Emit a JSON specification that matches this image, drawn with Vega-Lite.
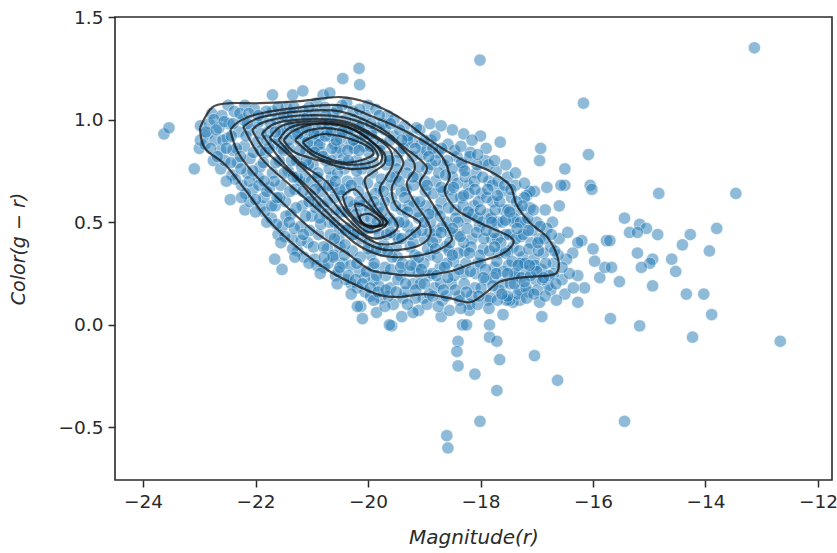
{"$schema":"https://vega.github.io/schema/vega-lite/v6.json","width":717,"height":463,"autosize":{"type":"none"},"padding":{"left":115,"top":17,"right":5,"bottom":73},"background":"white","config":{"view":{"stroke":"#2a2a2a","strokeWidth":1.6},"font":"DejaVu Sans"},
"datasets":{"pts":[
{"m":-13.13,"c":1.35},{"m":-18.01,"c":1.29},{"m":-16.17,"c":1.08},{"m":-20.16,"c":1.25},{"m":-20.15,"c":1.17},{"m":-20.45,"c":1.2},{"m":-12.67,"c":-0.08},{"m":-13.46,"c":0.64},{"m":-14.83,"c":0.64},{"m":-16.08,"c":0.83},{"m":-16.5,"c":0.76},{"m":-16.93,"c":0.86},{"m":-16.95,"c":0.8},{"m":-16.05,"c":0.68},{"m":-16.02,"c":0.66},{"m":-16.5,"c":0.68},{"m":-16.57,"c":0.68},{"m":-16.82,"c":0.67},{"m":-17.04,"c":0.65},{"m":-17.18,"c":0.63},{"m":-17.12,"c":0.65},
{"m":-15.44,"c":0.52},{"m":-15.17,"c":0.49},{"m":-15.05,"c":0.47},{"m":-15.35,"c":0.45},{"m":-15.21,"c":0.45},{"m":-14.85,"c":0.44},{"m":-14.27,"c":0.44},{"m":-13.8,"c":0.47},{"m":-14.41,"c":0.39},{"m":-13.93,"c":0.36},{"m":-14.6,"c":0.32},{"m":-14.94,"c":0.32},{"m":-14.99,"c":0.3},{"m":-14.53,"c":0.26},{"m":-15.14,"c":0.28},{"m":-15.21,"c":0.35},{"m":-15.53,"c":0.21},{"m":-15.88,"c":0.23},{"m":-15.79,"c":0.28},{"m":-15.67,"c":0.28},{"m":-15.97,"c":0.31},{"m":-16.0,"c":0.37},{"m":-15.76,"c":0.41},{"m":-15.7,"c":0.41},{"m":-16.2,"c":0.41},{"m":-16.27,"c":0.4},{"m":-16.36,"c":0.35},{"m":-16.27,"c":0.24},{"m":-16.47,"c":0.32},{"m":-14.94,"c":0.19},{"m":-14.34,"c":0.15},{"m":-14.03,"c":0.15},{"m":-13.89,"c":0.05},{"m":-15.69,"c":0.03},{"m":-15.17,"c":-0.005},{"m":-14.23,"c":-0.06},{"m":-15.44,"c":-0.47},{"m":-18.01,"c":-0.47},{"m":-16.63,"c":-0.27},{"m":-17.04,"c":-0.15},{"m":-17.71,"c":-0.32},{"m":-18.1,"c":-0.24},{"m":-18.6,"c":-0.54},{"m":-18.58,"c":-0.6},
{"m":-18.4,"c":-0.08},{"m":-18.42,"c":-0.13},{"m":-18.4,"c":-0.2},{"m":-17.84,"c":-0.06},{"m":-17.71,"c":-0.08},{"m":-17.66,"c":-0.17},{"m":-18.32,"c":0.0},{"m":-18.25,"c":0.0},{"m":-17.84,"c":0.0},{"m":-19.58,"c":-0.005},{"m":-19.62,"c":0.0},{"m":-20.1,"c":0.03},{"m":-20.13,"c":0.09},{"m":-20.19,"c":0.09},{"m":-16.91,"c":0.04},{"m":-16.5,"c":0.15},{"m":-16.27,"c":0.11},{"m":-16.75,"c":0.17},{"m":-16.95,"c":0.11},{"m":-17.3,"c":0.12},{"m":-17.42,"c":0.11},{"m":-17.6,"c":0.05},{"m":-18.2,"c":0.07},{"m":-18.7,"c":0.04},{"m":-19.1,"c":0.07},{"m":-19.4,"c":0.04},{"m":-19.85,"c":0.06},{"m":-19.55,"c":0.1},{"m":-16.55,"c":0.22},{"m":-16.42,"c":0.25},{"m":-16.15,"c":0.18},{"m":-16.7,"c":0.3},{"m":-16.6,"c":0.42},{"m":-16.45,"c":0.45},{"m":-16.72,"c":0.5},{"m":-16.85,"c":0.56},{"m":-16.6,"c":0.58},
{"m":-23.63,"c":0.93},{"m":-23.54,"c":0.96},{"m":-23.09,"c":0.76},{"m":-23.0,"c":0.86},{"m":-22.98,"c":0.9},{"m":-22.98,"c":0.97},{"m":-22.45,"c":0.61},{"m":-22.19,"c":0.56},{"m":-21.66,"c":0.32},{"m":-21.53,"c":0.27},{"m":-21.7,"c":1.04},{"m":-21.34,"c":1.12},{"m":-21.16,"c":1.14},{"m":-21.7,"c":1.12},{"m":-20.8,"c":1.12},{"m":-20.68,"c":1.13},{"m":-22.49,"c":1.07},{"m":-22.19,"c":1.07},{"m":-22.75,"c":0.8},{"m":-22.62,"c":0.76},{"m":-22.1,"c":0.6},{"m":-21.9,"c":0.58},{"m":-21.6,"c":0.44},
{"m":-22.9,"c":0.88},{"m":-22.85,"c":0.93},{"m":-22.82,"c":0.98},{"m":-22.78,"c":1.03},{"m":-22.72,"c":0.9},{"m":-22.65,"c":0.96},{"m":-22.62,"c":0.85},{"m":-22.6,"c":1.02},{"m":-22.55,"c":0.8},{"m":-22.5,"c":0.91},{"m":-22.47,"c":0.98},{"m":-22.42,"c":0.73},{"m":-22.4,"c":0.85},{"m":-22.38,"c":1.04},{"m":-22.32,"c":0.79},{"m":-22.3,"c":0.94},{"m":-22.25,"c":0.68},{"m":-22.22,"c":1.0},{"m":-22.2,"c":0.87},{"m":-22.15,"c":0.74},{"m":-22.1,"c":0.81},{"m":-22.08,"c":0.95},{"m":-22.05,"c":0.66},{"m":-22.02,"c":1.05},{"m":-21.98,"c":0.89},{"m":-21.95,"c":0.72},{"m":-21.92,"c":0.77},{"m":-21.88,"c":1.0},{"m":-21.85,"c":0.62},{"m":-21.82,"c":0.84},{"m":-21.78,"c":0.94},{"m":-21.75,"c":0.67},{"m":-21.72,"c":0.52},{"m":-21.7,"c":0.74},{"m":-21.68,"c":0.88},{"m":-21.65,"c":0.58},{"m":-21.62,"c":1.0},{"m":-21.58,"c":0.8},{"m":-21.55,"c":0.68},{"m":-21.52,"c":0.48},{"m":-21.5,"c":0.93},{"m":-21.47,"c":0.6},{"m":-21.45,"c":1.06},{"m":-21.42,"c":0.75},{"m":-21.4,"c":0.86},{"m":-21.37,"c":0.54},{"m":-21.35,"c":0.42},{"m":-21.33,"c":0.98},{"m":-21.3,"c":0.66},{"m":-21.27,"c":0.8},{"m":-21.25,"c":0.36},{"m":-21.22,"c":0.9},{"m":-21.2,"c":0.48},{"m":-21.17,"c":0.58},{"m":-21.15,"c":1.04},{"m":-21.12,"c":0.72},{"m":-21.1,"c":0.85},{"m":-21.07,"c":0.4},{"m":-21.05,"c":0.95},{"m":-21.02,"c":0.63},{"m":-21.0,"c":0.53},{"m":-20.98,"c":0.78},{"m":-20.95,"c":0.32},{"m":-20.92,"c":1.08},{"m":-20.9,"c":0.88},{"m":-20.88,"c":0.44},{"m":-20.85,"c":0.68},{"m":-20.82,"c":0.98},{"m":-20.8,"c":0.58},{"m":-20.78,"c":0.28},{"m":-20.75,"c":0.8},{"m":-20.72,"c":0.37},{"m":-20.7,"c":0.92},{"m":-20.68,"c":0.5},{"m":-20.65,"c":0.72},{"m":-20.62,"c":1.03},{"m":-20.6,"c":0.62},{"m":-20.58,"c":0.24},{"m":-20.55,"c":0.84},{"m":-20.52,"c":0.42},{"m":-20.5,"c":0.95},{"m":-20.48,"c":0.55},{"m":-20.45,"c":0.3},{"m":-20.42,"c":0.76},{"m":-20.4,"c":0.66},{"m":-20.38,"c":1.08},{"m":-20.35,"c":0.47},{"m":-20.32,"c":0.88},{"m":-20.3,"c":0.2},{"m":-20.28,"c":0.36},{"m":-20.25,"c":0.58},{"m":-20.22,"c":1.0},{"m":-20.2,"c":0.8},{"m":-20.18,"c":0.7},{"m":-20.15,"c":0.26},{"m":-20.12,"c":0.42},{"m":-20.1,"c":0.92},{"m":-20.08,"c":0.52},{"m":-20.05,"c":0.16},{"m":-20.02,"c":0.62},{"m":-20.0,"c":1.07},{"m":-19.98,"c":0.84},{"m":-19.95,"c":0.34},{"m":-19.92,"c":0.74},{"m":-19.9,"c":0.22},{"m":-19.88,"c":0.47},{"m":-19.85,"c":0.96},{"m":-19.82,"c":0.57},{"m":-19.8,"c":0.67},{"m":-19.78,"c":0.13},{"m":-19.75,"c":0.88},{"m":-19.72,"c":0.39},{"m":-19.7,"c":0.28},{"m":-19.68,"c":0.78},{"m":-19.65,"c":1.02},{"m":-19.62,"c":0.52},{"m":-19.6,"c":0.18},{"m":-19.58,"c":0.62},{"m":-19.55,"c":0.92},{"m":-19.52,"c":0.44},{"m":-19.5,"c":0.72},{"m":-19.48,"c":0.33},{"m":-19.45,"c":0.84},{"m":-19.42,"c":0.24},{"m":-19.4,"c":0.56},{"m":-19.38,"c":0.13},{"m":-19.35,"c":0.97},{"m":-19.32,"c":0.66},{"m":-19.3,"c":0.48},{"m":-19.28,"c":0.78},{"m":-19.25,"c":0.38},{"m":-19.22,"c":0.89},{"m":-19.2,"c":0.2},{"m":-19.18,"c":0.6},{"m":-19.15,"c":0.29},{"m":-19.12,"c":0.72},{"m":-19.1,"c":0.52},{"m":-19.08,"c":0.95},{"m":-19.05,"c":0.83},{"m":-19.02,"c":0.13},{"m":-19.0,"c":0.42},{"m":-18.98,"c":0.65},{"m":-18.95,"c":0.76},{"m":-18.92,"c":0.24},{"m":-18.9,"c":0.34},{"m":-18.88,"c":0.9},{"m":-18.85,"c":0.55},{"m":-18.82,"c":0.18},{"m":-18.8,"c":0.7},{"m":-18.78,"c":0.46},{"m":-18.75,"c":0.84},{"m":-18.72,"c":0.28},{"m":-18.7,"c":0.6},{"m":-18.68,"c":0.12},{"m":-18.65,"c":0.78},{"m":-18.62,"c":0.38},{"m":-18.6,"c":0.5},{"m":-18.58,"c":0.88},{"m":-18.55,"c":0.66},{"m":-18.52,"c":0.2},{"m":-18.5,"c":0.72},{"m":-18.48,"c":0.31},{"m":-18.45,"c":0.56},{"m":-18.42,"c":0.82},{"m":-18.4,"c":0.44},{"m":-18.38,"c":0.14},{"m":-18.35,"c":0.62},{"m":-18.32,"c":0.77},{"m":-18.3,"c":0.25},{"m":-18.28,"c":0.36},{"m":-18.25,"c":0.52},{"m":-18.22,"c":0.68},{"m":-18.2,"c":0.1},{"m":-18.18,"c":0.84},{"m":-18.15,"c":0.42},{"m":-18.12,"c":0.58},{"m":-18.1,"c":0.18},{"m":-18.08,"c":0.74},{"m":-18.05,"c":0.3},{"m":-18.02,"c":0.48},{"m":-18.0,"c":0.92},{"m":-17.98,"c":0.64},{"m":-17.95,"c":0.37},{"m":-17.92,"c":0.8},{"m":-17.9,"c":0.22},{"m":-17.88,"c":0.54},{"m":-17.85,"c":0.7},{"m":-17.82,"c":0.13},{"m":-17.8,"c":0.42},{"m":-17.78,"c":0.6},{"m":-17.75,"c":0.28},{"m":-17.72,"c":0.75},{"m":-17.7,"c":0.5},{"m":-17.68,"c":0.35},{"m":-17.65,"c":0.89},{"m":-17.62,"c":0.65},{"m":-17.6,"c":0.2},{"m":-17.58,"c":0.56},{"m":-17.55,"c":0.44},{"m":-17.52,"c":0.72},{"m":-17.5,"c":0.29},{"m":-17.48,"c":0.12},{"m":-17.45,"c":0.62},{"m":-17.42,"c":0.38},{"m":-17.4,"c":0.5},{"m":-17.38,"c":0.68},{"m":-17.35,"c":0.24},{"m":-17.32,"c":0.56},{"m":-17.3,"c":0.17},{"m":-17.28,"c":0.43},{"m":-17.25,"c":0.33},{"m":-17.22,"c":0.62},{"m":-17.2,"c":0.5},{"m":-17.18,"c":0.26},{"m":-17.15,"c":0.16},{"m":-17.12,"c":0.57},{"m":-17.1,"c":0.4},{"m":-17.05,"c":0.32},{"m":-17.02,"c":0.22},{"m":-17.0,"c":0.5},{"m":-16.95,"c":0.42},{"m":-16.92,"c":0.27},{"m":-16.88,"c":0.35},{"m":-16.82,"c":0.47},{"m":-16.8,"c":0.19},{"m":-16.75,"c":0.38},{"m":-16.7,"c":0.25},{"m":-16.62,"c":0.34},{"m":-16.55,"c":0.28},
{"m":-21.9,"c":0.85},{"m":-21.6,"c":0.9},{"m":-21.3,"c":0.93},{"m":-21.2,"c":1.0},{"m":-21.0,"c":0.9},{"m":-21.0,"c":1.0},{"m":-20.9,"c":0.95},{"m":-20.7,"c":0.98},{"m":-20.6,"c":0.88},{"m":-20.5,"c":0.86},{"m":-20.4,"c":1.0},{"m":-20.3,"c":0.95},{"m":-20.2,"c":0.9},{"m":-20.1,"c":0.98},{"m":-19.9,"c":0.9},{"m":-19.7,"c":0.95},{"m":-19.5,"c":0.8},{"m":-19.3,"c":0.9},{"m":-20.6,"c":0.5},{"m":-20.4,"c":0.55},{"m":-20.2,"c":0.5},{"m":-20.1,"c":0.58},{"m":-19.95,"c":0.52},{"m":-19.8,"c":0.44},{"m":-19.7,"c":0.5},{"m":-19.5,"c":0.38},{"m":-19.2,"c":0.4},{"m":-18.9,"c":0.45},{"m":-18.6,"c":0.3},{"m":-18.3,"c":0.4},{"m":-18.0,"c":0.3},{"m":-17.7,"c":0.42},{"m":-17.5,"c":0.36},{"m":-17.3,"c":0.3},{"m":-19.1,"c":0.25},{"m":-19.9,"c":0.28},{"m":-20.5,"c":0.38},{"m":-20.9,"c":0.6},{"m":-21.2,"c":0.7},
{"m":-22.88,"c":0.94},{"m":-22.8,"c":0.86},{"m":-22.74,"c":1.0},{"m":-22.68,"c":0.82},{"m":-22.58,"c":0.9},{"m":-22.56,"c":0.99},{"m":-22.44,"c":0.79},{"m":-22.43,"c":0.92},{"m":-22.36,"c":0.71},{"m":-22.34,"c":0.86},{"m":-22.28,"c":1.03},{"m":-22.26,"c":0.76},{"m":-22.18,"c":0.64},{"m":-22.17,"c":0.92},{"m":-22.12,"c":1.03},{"m":-22.11,"c":0.7},{"m":-22.04,"c":0.84},{"m":-22.0,"c":0.61},{"m":-21.97,"c":0.98},{"m":-21.94,"c":0.68},{"m":-21.9,"c":0.93},{"m":-21.86,"c":0.79},{"m":-21.84,"c":0.55},{"m":-21.81,"c":1.04},{"m":-21.8,"c":0.65},{"m":-21.76,"c":0.86},{"m":-21.73,"c":0.98},{"m":-21.71,"c":0.58},{"m":-21.67,"c":0.7},{"m":-21.64,"c":0.79},{"m":-21.63,"c":0.49},{"m":-21.6,"c":1.06},{"m":-21.57,"c":0.62},{"m":-21.56,"c":0.95},{"m":-21.54,"c":0.86},{"m":-21.49,"c":0.74},{"m":-21.48,"c":0.43},{"m":-21.46,"c":0.53},{"m":-21.44,"c":1.01},{"m":-21.41,"c":0.9},{"m":-21.39,"c":0.65},{"m":-21.36,"c":0.8},{"m":-21.34,"c":0.37},{"m":-21.32,"c":1.06},{"m":-21.31,"c":0.47},{"m":-21.28,"c":0.57},{"m":-21.26,"c":0.72},{"m":-21.24,"c":0.96},{"m":-21.21,"c":0.85},{"m":-21.19,"c":0.41},{"m":-21.16,"c":0.65},{"m":-21.14,"c":0.33},{"m":-21.13,"c":0.92},{"m":-21.11,"c":0.53},{"m":-21.09,"c":1.01},{"m":-21.06,"c":0.78},{"m":-21.04,"c":0.46},{"m":-21.01,"c":0.7},{"m":-20.99,"c":0.85},{"m":-20.97,"c":0.38},{"m":-20.94,"c":1.03},{"m":-20.93,"c":0.57},{"m":-20.91,"c":0.29},{"m":-20.89,"c":0.74},{"m":-20.87,"c":0.92},{"m":-20.84,"c":0.49},{"m":-20.83,"c":0.84},{"m":-20.81,"c":0.65},{"m":-20.79,"c":0.38},{"m":-20.77,"c":1.06},{"m":-20.74,"c":0.54},{"m":-20.73,"c":0.95},{"m":-20.71,"c":0.3},{"m":-20.69,"c":0.76},{"m":-20.67,"c":0.44},{"m":-20.64,"c":0.86},{"m":-20.63,"c":0.67},{"m":-20.61,"c":0.34},{"m":-20.59,"c":0.99},{"m":-20.57,"c":0.56},{"m":-20.54,"c":0.74},{"m":-20.53,"c":0.26},{"m":-20.51,"c":0.47},{"m":-20.49,"c":0.91},{"m":-20.47,"c":0.63},{"m":-20.46,"c":1.07},{"m":-20.44,"c":0.81},{"m":-20.41,"c":0.39},{"m":-20.39,"c":0.22},{"m":-20.37,"c":0.7},{"m":-20.36,"c":0.94},{"m":-20.34,"c":0.6},{"m":-20.31,"c":0.29},{"m":-20.29,"c":0.78},{"m":-20.27,"c":1.04},{"m":-20.26,"c":0.44},{"m":-20.24,"c":0.86},{"m":-20.21,"c":0.54},{"m":-20.19,"c":0.18},{"m":-20.17,"c":0.65},{"m":-20.16,"c":0.96},{"m":-20.14,"c":0.33},{"m":-20.11,"c":0.76},{"m":-20.09,"c":0.46},{"m":-20.07,"c":0.87},{"m":-20.06,"c":0.23},{"m":-20.04,"c":1.02},{"m":-20.01,"c":0.69},{"m":-19.99,"c":0.4},{"m":-19.97,"c":0.56},{"m":-19.96,"c":0.14},{"m":-19.94,"c":0.93},{"m":-19.91,"c":0.79},{"m":-19.89,"c":0.3},{"m":-19.87,"c":0.64},{"m":-19.86,"c":1.05},{"m":-19.84,"c":0.5},{"m":-19.81,"c":0.19},{"m":-19.79,"c":0.85},{"m":-19.77,"c":0.36},{"m":-19.76,"c":0.71},{"m":-19.74,"c":0.98},{"m":-19.71,"c":0.6},{"m":-19.69,"c":0.24},{"m":-19.67,"c":0.44},{"m":-19.66,"c":0.82},{"m":-19.64,"c":0.14},{"m":-19.61,"c":0.9},{"m":-19.59,"c":0.68},{"m":-19.57,"c":0.33},{"m":-19.56,"c":0.5},{"m":-19.54,"c":1.0},{"m":-19.51,"c":0.58},{"m":-19.49,"c":0.76},{"m":-19.47,"c":0.22},{"m":-19.46,"c":0.42},{"m":-19.44,"c":0.95},{"m":-19.41,"c":0.65},{"m":-19.39,"c":0.3},{"m":-19.37,"c":0.86},{"m":-19.36,"c":0.5},{"m":-19.34,"c":0.16},{"m":-19.31,"c":0.74},{"m":-19.29,"c":0.92},{"m":-19.27,"c":0.58},{"m":-19.26,"c":0.26},{"m":-19.24,"c":0.44},{"m":-19.21,"c":0.82},{"m":-19.19,"c":0.68},{"m":-19.17,"c":0.34},{"m":-19.16,"c":0.13},{"m":-19.14,"c":0.96},{"m":-19.11,"c":0.55},{"m":-19.09,"c":0.77},{"m":-19.07,"c":0.2},{"m":-19.06,"c":0.88},{"m":-19.04,"c":0.46},{"m":-19.01,"c":0.3},{"m":-18.99,"c":0.7},{"m":-18.97,"c":0.58},{"m":-18.96,"c":0.85},{"m":-18.94,"c":0.37},{"m":-18.91,"c":0.15},{"m":-18.89,"c":0.5},{"m":-18.87,"c":0.78},{"m":-18.86,"c":0.25},{"m":-18.84,"c":0.64},{"m":-18.81,"c":0.92},{"m":-18.79,"c":0.42},{"m":-18.77,"c":0.33},{"m":-18.76,"c":0.56},{"m":-18.74,"c":0.74},{"m":-18.71,"c":0.2},{"m":-18.69,"c":0.86},{"m":-18.67,"c":0.48},{"m":-18.66,"c":0.65},{"m":-18.64,"c":0.28},{"m":-18.61,"c":0.14},{"m":-18.59,"c":0.8},{"m":-18.57,"c":0.57},{"m":-18.56,"c":0.36},{"m":-18.54,"c":0.45},{"m":-18.51,"c":0.76},{"m":-18.49,"c":0.62},{"m":-18.47,"c":0.24},{"m":-18.46,"c":0.85},{"m":-18.44,"c":0.52},{"m":-18.41,"c":0.69},{"m":-18.39,"c":0.35},{"m":-18.37,"c":0.12},{"m":-18.36,"c":0.43},{"m":-18.34,"c":0.79},{"m":-18.31,"c":0.58},{"m":-18.29,"c":0.2},{"m":-18.27,"c":0.72},{"m":-18.26,"c":0.3},{"m":-18.24,"c":0.47},{"m":-18.21,"c":0.64},{"m":-18.19,"c":0.82},{"m":-18.17,"c":0.38},{"m":-18.16,"c":0.14},{"m":-18.14,"c":0.54},{"m":-18.11,"c":0.7},{"m":-18.09,"c":0.25},{"m":-18.07,"c":0.45},{"m":-18.06,"c":0.78},{"m":-18.04,"c":0.6},{"m":-18.01,"c":0.34},{"m":-17.99,"c":0.18},{"m":-17.97,"c":0.5},{"m":-17.96,"c":0.72},{"m":-17.94,"c":0.42},{"m":-17.91,"c":0.27},{"m":-17.89,"c":0.62},{"m":-17.87,"c":0.12},{"m":-17.86,"c":0.78},{"m":-17.84,"c":0.36},{"m":-17.81,"c":0.52},{"m":-17.79,"c":0.68},{"m":-17.77,"c":0.23},{"m":-17.76,"c":0.45},{"m":-17.74,"c":0.56},{"m":-17.71,"c":0.31},{"m":-17.69,"c":0.7},{"m":-17.67,"c":0.17},{"m":-17.66,"c":0.6},{"m":-17.64,"c":0.4},{"m":-17.61,"c":0.5},{"m":-17.59,"c":0.26},{"m":-17.57,"c":0.68},{"m":-17.56,"c":0.35},{"m":-17.54,"c":0.12},{"m":-17.51,"c":0.56},{"m":-17.49,"c":0.44},{"m":-17.47,"c":0.2},{"m":-17.46,"c":0.66},{"m":-17.44,"c":0.31},{"m":-17.41,"c":0.52},{"m":-17.39,"c":0.25},{"m":-17.37,"c":0.42},{"m":-17.36,"c":0.6},{"m":-17.34,"c":0.15},{"m":-17.31,"c":0.36},{"m":-17.29,"c":0.5},{"m":-17.27,"c":0.23},{"m":-17.26,"c":0.58},{"m":-17.24,"c":0.44},{"m":-17.21,"c":0.3},{"m":-17.19,"c":0.18},{"m":-17.16,"c":0.52},{"m":-17.14,"c":0.37},{"m":-17.11,"c":0.24},{"m":-17.08,"c":0.46},{"m":-17.06,"c":0.56},{"m":-17.03,"c":0.29},{"m":-16.99,"c":0.17},{"m":-16.97,"c":0.36},{"m":-16.94,"c":0.48},{"m":-16.9,"c":0.22},{"m":-16.86,"c":0.42},{"m":-16.84,"c":0.3},{"m":-16.78,"c":0.24},{"m":-16.74,"c":0.44},{"m":-16.68,"c":0.36},{"m":-16.66,"c":0.2},
{"m":-21.5,"c":1.02},{"m":-21.4,"c":0.97},{"m":-21.25,"c":0.93},{"m":-21.1,"c":0.96},{"m":-21.08,"c":0.89},{"m":-20.96,"c":0.93},{"m":-20.86,"c":0.88},{"m":-20.76,"c":0.92},{"m":-20.66,"c":0.94},{"m":-20.56,"c":0.9},{"m":-20.46,"c":0.94},{"m":-20.36,"c":0.85},{"m":-20.26,"c":0.9},{"m":-20.16,"c":0.85},{"m":-20.06,"c":0.93},{"m":-19.96,"c":0.87},{"m":-21.1,"c":0.8},{"m":-20.95,"c":0.84},{"m":-20.8,"c":0.82},{"m":-20.65,"c":0.8},{"m":-20.5,"c":0.78},{"m":-20.35,"c":0.8},{"m":-20.2,"c":0.75},{"m":-20.05,"c":0.78},{"m":-20.9,"c":0.72},{"m":-20.7,"c":0.68},{"m":-20.5,"c":0.66},{"m":-20.3,"c":0.68},{"m":-20.15,"c":0.6},{"m":-20.0,"c":0.47},{"m":-19.9,"c":0.6},{"m":-19.75,"c":0.55},{"m":-19.6,"c":0.45},{"m":-19.45,"c":0.5},{"m":-19.3,"c":0.55},{"m":-19.15,"c":0.45},{"m":-19.0,"c":0.5},{"m":-18.85,"c":0.4},{"m":-18.7,"c":0.45},{"m":-18.55,"c":0.4},{"m":-18.4,"c":0.5},{"m":-18.2,"c":0.35},{"m":-18.05,"c":0.52},{"m":-17.9,"c":0.46},{"m":-17.75,"c":0.38},{"m":-20.0,"c":0.37},{"m":-19.85,"c":0.37},{"m":-19.65,"c":0.36},{"m":-19.4,"c":0.42},{"m":-19.1,"c":0.33},{"m":-18.8,"c":0.37},{"m":-18.5,"c":0.34},{"m":-20.25,"c":0.44},{"m":-20.4,"c":0.46},
{"m":-18.9,"c":0.98},{"m":-18.7,"c":0.97},{"m":-18.5,"c":0.95},{"m":-18.3,"c":0.93},{"m":-18.15,"c":0.9},{"m":-17.9,"c":0.86},{"m":-19.0,"c":0.9},{"m":-18.85,"c":0.86},{"m":-19.4,"c":0.9},{"m":-18.35,"c":0.87},{"m":-18.05,"c":0.83},{"m":-17.75,"c":0.8},{"m":-17.55,"c":0.78},{"m":-17.38,"c":0.74},{"m":-17.22,"c":0.69},{"m":-19.2,"c":0.06},{"m":-18.95,"c":0.1},{"m":-18.75,"c":0.09},{"m":-18.55,"c":0.07},{"m":-18.35,"c":0.08},{"m":-18.05,"c":0.1},{"m":-17.85,"c":0.08},{"m":-17.7,"c":0.12},{"m":-17.52,"c":0.14},{"m":-17.18,"c":0.13},{"m":-17.05,"c":0.15},{"m":-16.85,"c":0.14},{"m":-16.65,"c":0.12},{"m":-16.35,"c":0.18},{"m":-19.7,"c":0.09},{"m":-19.3,"c":0.1},{"m":-19.9,"c":0.12},{"m":-20.3,"c":0.15},{"m":-20.55,"c":0.2},{"m":-20.85,"c":0.25},{"m":-21.05,"c":0.3},{"m":-21.3,"c":0.33},{"m":-21.55,"c":0.4},{"m":-21.8,"c":0.5},{"m":-22.0,"c":0.55},{"m":-22.25,"c":0.62},{"m":-22.52,"c":0.7},
{"m":-20.62,"c":0.33},{"m":-20.5,"c":0.28},{"m":-20.35,"c":0.24},{"m":-20.22,"c":0.22},{"m":-20.1,"c":0.2},{"m":-19.96,"c":0.18},{"m":-19.82,"c":0.16},{"m":-19.68,"c":0.17},{"m":-19.5,"c":0.16},{"m":-19.33,"c":0.2},{"m":-19.15,"c":0.17},{"m":-19.0,"c":0.2},{"m":-18.85,"c":0.14},{"m":-18.66,"c":0.17},{"m":-18.45,"c":0.17},{"m":-18.25,"c":0.16},{"m":-18.03,"c":0.14},{"m":-17.78,"c":0.19},{"m":-17.62,"c":0.15},{"m":-17.4,"c":0.2},{"m":-17.22,"c":0.21},{"m":-17.0,"c":0.26},{"m":-16.88,"c":0.23},{"m":-20.78,"c":0.33},{"m":-20.6,"c":0.42},{"m":-20.42,"c":0.34},{"m":-20.2,"c":0.3},{"m":-20.03,"c":0.26},{"m":-19.85,"c":0.24},{"m":-19.6,"c":0.27},{"m":-19.42,"c":0.28},{"m":-19.24,"c":0.29},{"m":-19.05,"c":0.27},{"m":-18.78,"c":0.24},{"m":-18.58,"c":0.23},{"m":-18.38,"c":0.27},{"m":-18.18,"c":0.26},{"m":-17.95,"c":0.23},{"m":-17.72,"c":0.25},{"m":-17.52,"c":0.25},{"m":-17.33,"c":0.29},{"m":-17.13,"c":0.29},{"m":-16.98,"c":0.4},{"m":-17.15,"c":0.46},{"m":-17.35,"c":0.47},{"m":-17.56,"c":0.51},{"m":-17.8,"c":0.5},{"m":-18.0,"c":0.56},{"m":-18.22,"c":0.55},{"m":-18.5,"c":0.47},{"m":-18.72,"c":0.53},{"m":-18.92,"c":0.54},{"m":-19.08,"c":0.6},{"m":-19.2,"c":0.72},{"m":-19.35,"c":0.62},{"m":-19.6,"c":0.72},{"m":-19.73,"c":0.65},{"m":-18.95,"c":0.68},{"m":-18.7,"c":0.67},{"m":-18.48,"c":0.67},{"m":-18.3,"c":0.63},{"m":-18.1,"c":0.66},{"m":-17.87,"c":0.66},{"m":-17.7,"c":0.63},{"m":-17.48,"c":0.55},{"m":-18.8,"c":0.8},{"m":-18.62,"c":0.73},{"m":-18.28,"c":0.75},{"m":-18.92,"c":0.82},{"m":-19.16,"c":0.86},{"m":-21.8,"c":0.9},{"m":-21.5,"c":0.85},{"m":-21.33,"c":0.72},{"m":-21.18,"c":0.77},{"m":-21.05,"c":0.6},{"m":-20.94,"c":0.66},{"m":-20.72,"c":0.6},{"m":-20.58,"c":0.7},{"m":-20.86,"c":0.52},{"m":-21.15,"c":0.44},{"m":-21.4,"c":0.5},{"m":-21.62,"c":0.62},{"m":-21.85,"c":0.7},{"m":-22.05,"c":0.75},{"m":-22.27,"c":0.82},{"m":-22.52,"c":0.86},{"m":-22.7,"c":0.95},{"m":-22.4,"c":0.98},{"m":-22.15,"c":0.98},{"m":-21.95,"c":1.02},{"m":-21.65,"c":0.94},{"m":-21.35,"c":1.03},{"m":-21.05,"c":1.06},{"m":-20.75,"c":1.02},{"m":-20.55,"c":1.05},{"m":-20.15,"c":1.05},{"m":-19.8,"c":1.02},{"m":-19.6,"c":0.98},{"m":-19.95,"c":0.98},{"m":-19.45,"c":0.7},{"m":-19.62,"c":0.8}
],
"cnt":[
{"k":1,"i":0,"m":-22.99,"c":0.96},{"k":1,"i":1,"m":-22.77,"c":1.06},{"k":1,"i":2,"m":-22.45,"c":1.08},{"k":1,"i":3,"m":-21.92,"c":1.08},{"k":1,"i":4,"m":-21.21,"c":1.09},{"k":1,"i":5,"m":-20.5,"c":1.11},{"k":1,"i":6,"m":-19.97,"c":1.08},{"k":1,"i":7,"m":-19.44,"c":1.01},{"k":1,"i":8,"m":-18.9,"c":0.9},{"k":1,"i":9,"m":-18.37,"c":0.81},{"k":1,"i":10,"m":-17.84,"c":0.75},{"k":1,"i":11,"m":-17.48,"c":0.68},{"k":1,"i":12,"m":-17.36,"c":0.585},{"k":1,"i":13,"m":-17.13,"c":0.5},{"k":1,"i":14,"m":-16.81,"c":0.425},{"k":1,"i":15,"m":-16.63,"c":0.33},{"k":1,"i":16,"m":-16.63,"c":0.26},{"k":1,"i":17,"m":-16.81,"c":0.24},{"k":1,"i":18,"m":-17.3,"c":0.23},{"k":1,"i":19,"m":-17.66,"c":0.21},{"k":1,"i":20,"m":-17.89,"c":0.16},{"k":1,"i":21,"m":-18.19,"c":0.11},{"k":1,"i":22,"m":-18.55,"c":0.13},{"k":1,"i":23,"m":-19.0,"c":0.15},{"k":1,"i":24,"m":-19.44,"c":0.135},{"k":1,"i":25,"m":-19.79,"c":0.145},{"k":1,"i":26,"m":-20.15,"c":0.185},{"k":1,"i":27,"m":-20.68,"c":0.26},{"k":1,"i":28,"m":-21.21,"c":0.366},{"k":1,"i":29,"m":-21.74,"c":0.5},{"k":1,"i":30,"m":-22.19,"c":0.66},{"k":1,"i":31,"m":-22.54,"c":0.78},{"k":1,"i":32,"m":-22.9,"c":0.86},{"k":1,"i":33,"m":-22.99,"c":0.96},
{"k":2,"i":0,"m":-22.45,"c":0.95},{"k":2,"i":1,"m":-22.27,"c":0.995},{"k":2,"i":2,"m":-21.92,"c":1.03},{"k":2,"i":3,"m":-21.21,"c":1.06},{"k":2,"i":4,"m":-20.5,"c":1.07},{"k":2,"i":5,"m":-19.97,"c":1.02},{"k":2,"i":6,"m":-19.38,"c":0.95},{"k":2,"i":7,"m":-18.78,"c":0.85},{"k":2,"i":8,"m":-18.55,"c":0.73},{"k":2,"i":9,"m":-18.64,"c":0.66},{"k":2,"i":10,"m":-18.55,"c":0.6},{"k":2,"i":11,"m":-18.37,"c":0.55},{"k":2,"i":12,"m":-17.96,"c":0.49},{"k":2,"i":13,"m":-17.48,"c":0.43},{"k":2,"i":14,"m":-17.43,"c":0.39},{"k":2,"i":15,"m":-17.66,"c":0.34},{"k":2,"i":16,"m":-18.14,"c":0.3},{"k":2,"i":17,"m":-18.55,"c":0.26},{"k":2,"i":18,"m":-19.08,"c":0.24},{"k":2,"i":19,"m":-19.61,"c":0.25},{"k":2,"i":20,"m":-19.97,"c":0.27},{"k":2,"i":21,"m":-20.38,"c":0.35},{"k":2,"i":22,"m":-20.98,"c":0.46},{"k":2,"i":23,"m":-21.69,"c":0.64},{"k":2,"i":24,"m":-22.1,"c":0.76},{"k":2,"i":25,"m":-22.33,"c":0.85},{"k":2,"i":26,"m":-22.45,"c":0.95},
{"k":3,"i":0,"m":-22.22,"c":0.965},{"k":3,"i":1,"m":-21.92,"c":1.01},{"k":3,"i":2,"m":-21.21,"c":1.04},{"k":3,"i":3,"m":-20.5,"c":1.04},{"k":3,"i":4,"m":-19.79,"c":0.96},{"k":3,"i":5,"m":-19.38,"c":0.87},{"k":3,"i":6,"m":-18.96,"c":0.77},{"k":3,"i":7,"m":-19.08,"c":0.69},{"k":3,"i":8,"m":-18.9,"c":0.61},{"k":3,"i":9,"m":-18.55,"c":0.45},{"k":3,"i":10,"m":-18.55,"c":0.4},{"k":3,"i":11,"m":-18.9,"c":0.35},{"k":3,"i":12,"m":-19.38,"c":0.33},{"k":3,"i":13,"m":-19.79,"c":0.34},{"k":3,"i":14,"m":-20.24,"c":0.4},{"k":3,"i":15,"m":-20.68,"c":0.51},{"k":3,"i":16,"m":-21.34,"c":0.67},{"k":3,"i":17,"m":-21.89,"c":0.81},{"k":3,"i":18,"m":-22.22,"c":0.965},
{"k":4,"i":0,"m":-22.06,"c":0.95},{"k":4,"i":1,"m":-21.83,"c":0.99},{"k":4,"i":2,"m":-21.21,"c":1.02},{"k":4,"i":3,"m":-20.41,"c":1.01},{"k":4,"i":4,"m":-19.7,"c":0.93},{"k":4,"i":5,"m":-19.26,"c":0.82},{"k":4,"i":6,"m":-19.17,"c":0.76},{"k":4,"i":7,"m":-19.31,"c":0.69},{"k":4,"i":8,"m":-19.2,"c":0.61},{"k":4,"i":9,"m":-18.9,"c":0.48},{"k":4,"i":10,"m":-18.96,"c":0.41},{"k":4,"i":11,"m":-19.31,"c":0.37},{"k":4,"i":12,"m":-19.79,"c":0.37},{"k":4,"i":13,"m":-20.33,"c":0.45},{"k":4,"i":14,"m":-20.77,"c":0.56},{"k":4,"i":15,"m":-21.3,"c":0.72},{"k":4,"i":16,"m":-21.83,"c":0.85},{"k":4,"i":17,"m":-22.06,"c":0.95},
{"k":5,"i":0,"m":-21.89,"c":0.93},{"k":5,"i":1,"m":-21.66,"c":0.98},{"k":5,"i":2,"m":-21.21,"c":1.0},{"k":5,"i":3,"m":-20.41,"c":0.99},{"k":5,"i":4,"m":-19.7,"c":0.89},{"k":5,"i":5,"m":-19.38,"c":0.8},{"k":5,"i":6,"m":-19.47,"c":0.73},{"k":5,"i":7,"m":-19.58,"c":0.66},{"k":5,"i":8,"m":-19.47,"c":0.57},{"k":5,"i":9,"m":-19.08,"c":0.5},{"k":5,"i":10,"m":-19.2,"c":0.45},{"k":5,"i":11,"m":-19.47,"c":0.4},{"k":5,"i":12,"m":-19.86,"c":0.4},{"k":5,"i":13,"m":-20.41,"c":0.5},{"k":5,"i":14,"m":-20.95,"c":0.64},{"k":5,"i":15,"m":-21.48,"c":0.78},{"k":5,"i":16,"m":-21.89,"c":0.93},
{"k":6,"i":0,"m":-21.75,"c":0.91},{"k":6,"i":1,"m":-21.53,"c":0.97},{"k":6,"i":2,"m":-21.12,"c":0.99},{"k":6,"i":3,"m":-20.41,"c":0.98},{"k":6,"i":4,"m":-19.7,"c":0.88},{"k":6,"i":5,"m":-19.56,"c":0.79},{"k":6,"i":6,"m":-19.7,"c":0.71},{"k":6,"i":7,"m":-19.79,"c":0.66},{"k":6,"i":8,"m":-19.65,"c":0.56},{"k":6,"i":9,"m":-19.47,"c":0.48},{"k":6,"i":10,"m":-19.7,"c":0.43},{"k":6,"i":11,"m":-20.0,"c":0.43},{"k":6,"i":12,"m":-20.41,"c":0.53},{"k":6,"i":13,"m":-20.89,"c":0.69},{"k":6,"i":14,"m":-21.38,"c":0.82},{"k":6,"i":15,"m":-21.75,"c":0.91},
{"k":7,"i":0,"m":-21.59,"c":0.9},{"k":7,"i":1,"m":-21.39,"c":0.96},{"k":7,"i":2,"m":-21.03,"c":0.98},{"k":7,"i":3,"m":-20.41,"c":0.97},{"k":7,"i":4,"m":-19.79,"c":0.86},{"k":7,"i":5,"m":-19.7,"c":0.79},{"k":7,"i":6,"m":-19.93,"c":0.74},{"k":7,"i":7,"m":-20.06,"c":0.7},{"k":7,"i":8,"m":-19.88,"c":0.58},{"k":7,"i":9,"m":-19.67,"c":0.5},{"k":7,"i":10,"m":-19.83,"c":0.46},{"k":7,"i":11,"m":-20.06,"c":0.46},{"k":7,"i":12,"m":-20.41,"c":0.56},{"k":7,"i":13,"m":-20.71,"c":0.69},{"k":7,"i":14,"m":-21.21,"c":0.79},{"k":7,"i":15,"m":-21.59,"c":0.9},
{"k":8,"i":0,"m":-21.5,"c":0.9},{"k":8,"i":1,"m":-21.3,"c":0.95},{"k":8,"i":2,"m":-20.86,"c":0.98},{"k":8,"i":3,"m":-20.24,"c":0.95},{"k":8,"i":4,"m":-19.79,"c":0.85},{"k":8,"i":5,"m":-19.83,"c":0.78},{"k":8,"i":6,"m":-20.33,"c":0.76},{"k":8,"i":7,"m":-20.86,"c":0.8},{"k":8,"i":8,"m":-21.3,"c":0.84},{"k":8,"i":9,"m":-21.5,"c":0.9},
{"k":9,"i":0,"m":-21.3,"c":0.9},{"k":9,"i":1,"m":-21.03,"c":0.95},{"k":9,"i":2,"m":-20.5,"c":0.95},{"k":9,"i":3,"m":-19.97,"c":0.88},{"k":9,"i":4,"m":-19.84,"c":0.81},{"k":9,"i":5,"m":-20.24,"c":0.78},{"k":9,"i":6,"m":-20.86,"c":0.81},{"k":9,"i":7,"m":-21.3,"c":0.9},
{"k":10,"i":0,"m":-21.16,"c":0.89},{"k":10,"i":1,"m":-20.77,"c":0.93},{"k":10,"i":2,"m":-20.15,"c":0.89},{"k":10,"i":3,"m":-19.91,"c":0.83},{"k":10,"i":4,"m":-20.41,"c":0.79},{"k":10,"i":5,"m":-20.95,"c":0.84},{"k":10,"i":6,"m":-21.16,"c":0.89},
{"k":11,"i":0,"m":-20.45,"c":0.63},{"k":11,"i":1,"m":-20.24,"c":0.66},{"k":11,"i":2,"m":-20.06,"c":0.61},{"k":11,"i":3,"m":-19.83,"c":0.54},{"k":11,"i":4,"m":-19.65,"c":0.5},{"k":11,"i":5,"m":-19.83,"c":0.48},{"k":11,"i":6,"m":-20.11,"c":0.49},{"k":11,"i":7,"m":-20.36,"c":0.56},{"k":11,"i":8,"m":-20.45,"c":0.63},
{"k":12,"i":0,"m":-20.24,"c":0.59},{"k":12,"i":1,"m":-20.06,"c":0.58},{"k":12,"i":2,"m":-19.74,"c":0.51},{"k":12,"i":3,"m":-19.83,"c":0.48},{"k":12,"i":4,"m":-20.11,"c":0.5},{"k":12,"i":5,"m":-20.24,"c":0.59},
{"k":13,"i":0,"m":-20.15,"c":0.53},{"k":13,"i":1,"m":-19.97,"c":0.54},{"k":13,"i":2,"m":-19.79,"c":0.5},{"k":13,"i":3,"m":-19.93,"c":0.47},{"k":13,"i":4,"m":-20.11,"c":0.5},{"k":13,"i":5,"m":-20.15,"c":0.53}
]},
"layer":[
{"data":{"name":"pts"},"mark":{"type":"point","filled":true,"fill":"#1f77b4","fillOpacity":0.5,"stroke":"white","strokeOpacity":0.55,"strokeWidth":0.8,"size":150,"clip":true},
"encoding":{"x":{"field":"m","type":"quantitative","scale":{"domain":[-24.5,-11.75],"nice":false,"zero":false},
"axis":{"values":[-24,-22,-20,-18,-16,-14,-12],"format":".0f","grid":false,"domain":false,"tickColor":"#2a2a2a","tickSize":7,"tickWidth":1.5,"labelFont":"DejaVu Sans","labelFontSize":18.5,"labelColor":"#2a2a2a","labelPadding":5,"title":"Magnitude(r)","titleFont":"DejaVu Sans","titleFontStyle":"italic","titleFontWeight":"normal","titleFontSize":20,"titleColor":"#2a2a2a","titlePadding":17}},
"y":{"field":"c","type":"quantitative","scale":{"domain":[-0.756,1.5],"nice":false,"zero":false},
"axis":{"values":[-0.5,0,0.5,1,1.5],"format":".1f","grid":false,"domain":false,"tickColor":"#2a2a2a","tickSize":7,"tickWidth":1.5,"labelFont":"DejaVu Sans","labelFontSize":18.5,"labelColor":"#2a2a2a","labelPadding":5,"title":"Color(g − r)","titleFont":"DejaVu Sans","titleFontStyle":"italic","titleFontWeight":"normal","titleFontSize":19,"titleColor":"#2a2a2a","titlePadding":30}}}},
{"data":{"name":"cnt"},"mark":{"type":"line","color":"#111","strokeWidth":2.2,"opacity":0.75,"interpolate":"cardinal","clip":true},
"encoding":{"x":{"field":"m","type":"quantitative"},"y":{"field":"c","type":"quantitative"},"detail":{"field":"k"},"order":{"field":"i"}}}
]}
